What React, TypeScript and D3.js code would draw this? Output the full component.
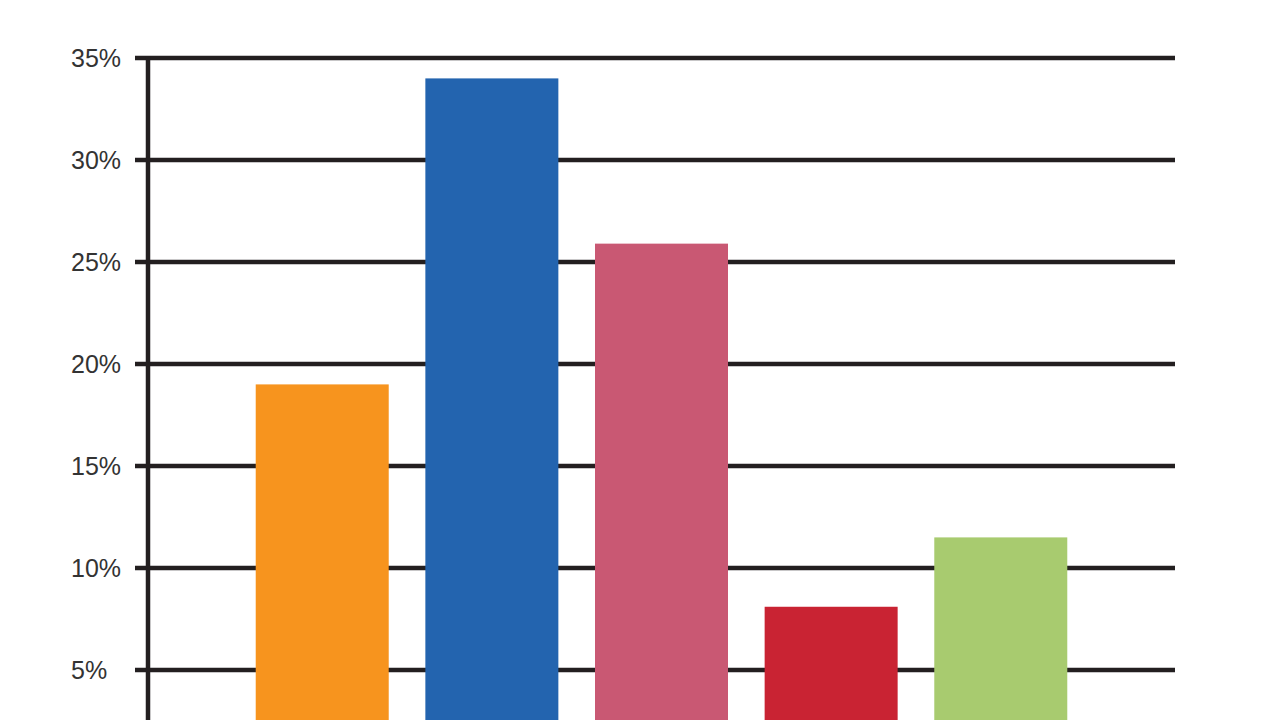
import React, { useEffect, useRef } from 'react';
import * as d3 from 'd3';

// Bar categories (their labels fall below the visible frame, so they are not drawn)
const categories = ['Group A', 'Group B', 'Group C', 'Group D', 'Group E'];
const values = [19.0, 34.0, 25.9, 8.1, 11.5];
const barColors = ['#F7941E', '#2364AF', '#C95873', '#C92333', '#A8CB6F'];
const yTicks = [5, 10, 15, 20, 25, 30, 35];

const App: React.FC = () => {
  const svgRef = useRef<SVGSVGElement>(null);

  useEffect(() => {
    if (!svgRef.current) return;
    const svg = d3.select(svgRef.current);
    svg.selectAll('*').remove();

    const left = 148;
    const right = 1175;
    const top = 58;
    const zeroY = 772; // 0% baseline sits just under the frame

    const y = d3.scaleLinear().domain([0, 35]).range([zeroY, top]);
    const x = d3.scaleBand<string>()
      .domain(categories)
      .range([left, right])
      .paddingInner(0.216)
      .paddingOuter(0.635);

    // Gridlines (extend a little left of the axis like ticks)
    svg.append('g')
      .selectAll('line')
      .data(yTicks)
      .enter()
      .append('line')
      .attr('x1', left - 13)
      .attr('x2', right)
      .attr('y1', d => y(d))
      .attr('y2', d => y(d))
      .attr('stroke', '#231F20')
      .attr('stroke-width', 4.5);

    // Tick labels, left aligned
    svg.append('g')
      .selectAll('text')
      .data(yTicks)
      .enter()
      .append('text')
      .attr('x', 71)
      .attr('y', d => y(d) + 9)
      .attr('font-family', '"Liberation Sans", Arial, Helvetica, sans-serif')
      .attr('font-size', 25)
      .attr('fill', '#333333')
      .text(d => `${d}%`);

    // Vertical axis
    svg.append('line')
      .attr('x1', left)
      .attr('x2', left)
      .attr('y1', top - 2)
      .attr('y2', zeroY)
      .attr('stroke', '#231F20')
      .attr('stroke-width', 4.5);

    // Bars
    svg.append('g')
      .selectAll('rect')
      .data(values)
      .enter()
      .append('rect')
      .attr('x', (_, i) => x(categories[i]) as number)
      .attr('width', x.bandwidth())
      .attr('y', d => y(d))
      .attr('height', d => zeroY - y(d))
      .attr('fill', (_, i) => barColors[i]);
  }, []);

  return (
    <div style={{ position: 'fixed', left: 0, top: 0, width: 1280, height: 720, background: '#fff', overflow: 'hidden' }}>
      <svg ref={svgRef} width={1280} height={720} style={{ display: 'block' }} />
    </div>
  );
};

export default App;
